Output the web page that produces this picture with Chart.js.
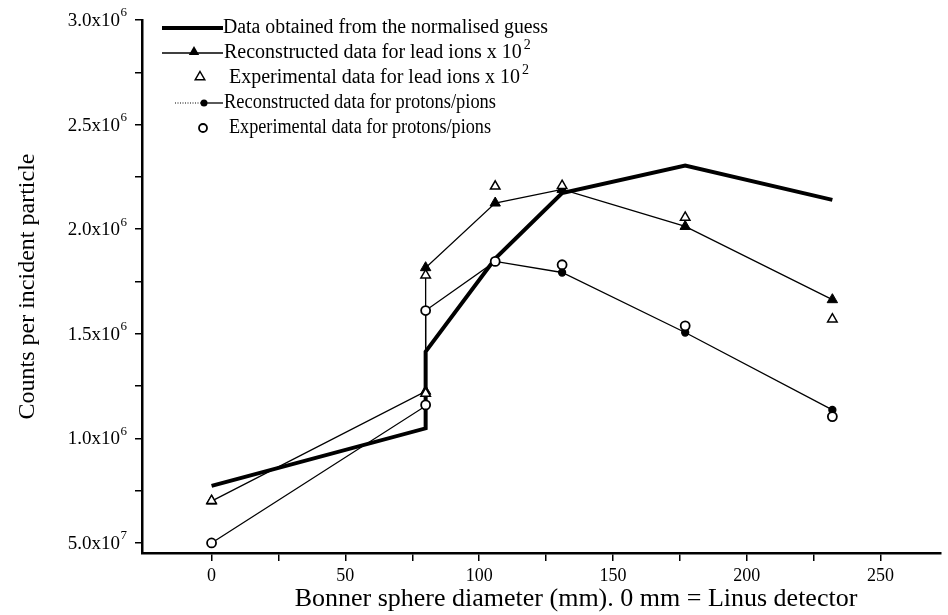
<!DOCTYPE html>
<html>
<head>
<meta charset="utf-8">
<script src="https://cdn.jsdelivr.net/npm/chart.js@4.4.1/dist/chart.umd.min.js"></script>
<style>
  html, body { margin: 0; background: #fff; }
</style>
</head>
<body>
<canvas id="bonner-chart" width="948" height="615"></canvas>
<script>
// sphere diameters (mm); two readings sit at 80 mm
const diameters = [0, 80, 80, 106, 131, 177, 232];
// counts per incident particle, in units of 10^6
const guessCounts = [0.773, 1.048, 1.415, 1.86, 2.173, 2.304, 2.14];
const leadRecon = [0.70, 1.225, 1.816, 2.125, 2.19, 2.013, 1.663];
const leadExp = [0.702, 1.215, 1.78, 2.205, 2.208, 2.056, 1.57];
const protonRecon = [0.50, 1.155, 1.611, 1.846, 1.793, 1.506, 1.136];
const protonExp = [0.50, 1.16, 1.611, 1.846, 1.83, 1.538, 1.104];

const yTickValues = [0.5, 1.0, 1.5, 2.0, 2.5, 3.0];
const yTickBase = ['5.0x10', '1.0x10', '1.5x10', '2.0x10', '2.5x10', '3.0x10'];
const yTickExp = ['7', '6', '6', '6', '6', '6'];
const xTickValues = [0, 50, 100, 150, 200, 250];

const seriesNames = [
    'Data obtained from the normalised guess',
    'Reconstructed data for lead ions x 10',
    'Experimental data for lead ions x 10',
    'Reconstructed data for protons/pions',
    'Experimental data for protons/pions'
];
const seriesSup = ['', '2', '2', '', ''];

const serif = '"Liberation Serif", "Times New Roman", serif';

function points(vals) {
    return vals.map((v, i) => ({ x: diameters[i], y: v }));
}

function triangle(ctx, x, y, r, filled) {
    ctx.beginPath();
    ctx.moveTo(x, y - r);
    ctx.lineTo(x + r * 0.866, y + r * 0.5);
    ctx.lineTo(x - r * 0.866, y + r * 0.5);
    ctx.closePath();
    if (filled) { ctx.fill(); } else { ctx.fillStyle = '#fff'; ctx.fill(); ctx.stroke(); ctx.fillStyle = '#000'; }
}

function circle(ctx, x, y, r, filled) {
    ctx.beginPath();
    ctx.arc(x, y, r, 0, Math.PI * 2);
    if (filled) { ctx.fill(); } else { ctx.fillStyle = '#fff'; ctx.fill(); ctx.stroke(); ctx.fillStyle = '#000'; }
}

// legend, y tick labels with exponents and x title, drawn like the printed figure
const paperBits = {
    id: 'paperBits',
    afterDraw(chart) {
        const ctx = chart.ctx;
        ctx.save();
        ctx.fillStyle = '#000';
        ctx.strokeStyle = '#000';
        const rows = [28, 53, 78, 103, 128];
        const textX = [223, 224, 229, 224, 229];
        const maxW = [325, 308, 296, 272, 262];

        // row 0: thick line
        ctx.lineWidth = 4;
        ctx.beginPath(); ctx.moveTo(162, rows[0]); ctx.lineTo(223, rows[0]); ctx.stroke();
        // row 1: line + filled triangle
        ctx.lineWidth = 1.3;
        ctx.beginPath(); ctx.moveTo(162, rows[1]); ctx.lineTo(223, rows[1]); ctx.stroke();
        triangle(ctx, 194, rows[1] - 1, 6, true);
        // row 2: open triangle
        ctx.lineWidth = 1.5;
        triangle(ctx, 200, rows[2] - 1, 5.5, false);
        // row 3: dotted then solid line + filled circle
        ctx.lineWidth = 1;
        ctx.setLineDash([1, 1.5]);
        ctx.beginPath(); ctx.moveTo(175, rows[3]); ctx.lineTo(203, rows[3]); ctx.stroke();
        ctx.setLineDash([]);
        ctx.lineWidth = 1.3;
        ctx.beginPath(); ctx.moveTo(203, rows[3]); ctx.lineTo(223, rows[3]); ctx.stroke();
        circle(ctx, 204, rows[3], 3.5, true);
        // row 4: open circle
        ctx.lineWidth = 1.8;
        circle(ctx, 203, rows[4], 4, false);

        ctx.textBaseline = 'middle';
        ctx.textAlign = 'left';
        seriesNames.forEach((name, i) => {
            ctx.font = '20px ' + serif;
            const w = Math.min(ctx.measureText(name).width, maxW[i]);
            ctx.fillText(name, textX[i], rows[i], maxW[i]);
            if (seriesSup[i]) {
                ctx.font = '14px ' + serif;
                ctx.fillText(seriesSup[i], textX[i] + w + 2, rows[i] - 8);
            }
        });

        // y tick labels, base plus raised exponent, right aligned to the ticks
        const yScale = chart.scales.y;
        const rightEdge = yScale.right - 15;
        yTickValues.forEach((v, i) => {
            const py = yScale.getPixelForValue(v);
            ctx.font = '13px ' + serif;
            const ew = ctx.measureText(yTickExp[i]).width;
            ctx.textAlign = 'right';
            ctx.fillText(yTickExp[i], rightEdge, py - 7);
            ctx.font = '19px ' + serif;
            ctx.fillText(yTickBase[i], rightEdge - ew - 0.5, py + 1);
        });

        // x axis title
        ctx.font = '26px ' + serif;
        ctx.textAlign = 'center';
        ctx.fillText('Bonner sphere diameter (mm). 0 mm = Linus detector', 576, 599);
        ctx.restore();
    }
};

const ctx = document.getElementById('bonner-chart').getContext('2d');
new Chart(ctx, {
    type: 'line',
    data: {
        datasets: [{
            label: seriesNames[0],
            data: points(guessCounts),
            borderColor: '#000',
            borderWidth: 4,
            pointRadius: 0,
            order: 5
        }, {
            label: seriesNames[1],
            data: points(leadRecon),
            borderColor: '#000',
            borderWidth: 1.3,
            pointStyle: 'triangle',
            pointRadius: 6,
            pointBackgroundColor: '#000',
            pointBorderColor: '#000',
            pointBorderWidth: 1,
            order: 4
        }, {
            label: seriesNames[2],
            data: points(leadExp),
            showLine: false,
            pointStyle: 'triangle',
            pointRadius: 5.5,
            pointBackgroundColor: '#fff',
            pointBorderColor: '#000',
            pointBorderWidth: 1.5,
            order: 2
        }, {
            label: seriesNames[3],
            data: points(protonRecon),
            borderColor: '#000',
            borderWidth: 1.3,
            pointStyle: 'circle',
            pointRadius: 3.5,
            pointBackgroundColor: '#000',
            pointBorderColor: '#000',
            order: 3
        }, {
            label: seriesNames[4],
            data: points(protonExp),
            showLine: false,
            pointStyle: 'circle',
            pointRadius: 4.5,
            pointBackgroundColor: '#fff',
            pointBorderColor: '#000',
            pointBorderWidth: 1.8,
            order: 1
        }]
    },
    options: {
        responsive: false,
        animation: false,
        layout: { padding: { top: 20, right: 0, left: 0, bottom: 0 } },
        elements: { line: { tension: 0 } },
        plugins: { legend: { display: false }, tooltip: { enabled: false } },
        scales: {
            x: {
                type: 'linear',
                min: -26,
                max: 272.6,
                afterFit: (scale) => { scale.height = 62; },
                afterBuildTicks: (scale) => { scale.ticks = scale.ticks.filter(t => t.value >= 0); },
                border: { display: true, color: '#000', width: 2.5 },
                grid: { drawOnChartArea: false, drawTicks: true, tickLength: 8, color: '#000', lineWidth: 1.5 },
                ticks: {
                    stepSize: 25,
                    includeBounds: false,
                    autoSkip: false,
                    maxRotation: 0,
                    padding: 4,
                    color: '#000',
                    font: { family: serif, size: 18 },
                    callback: (v) => xTickValues.includes(v) ? String(v) : ''
                }
            },
            y: {
                min: 0.452,
                max: 3.0,
                afterFit: (scale) => { scale.width = 142; },
                border: { display: true, color: '#000', width: 2.5 },
                grid: { drawOnChartArea: false, drawTicks: true, tickLength: 7, color: '#000', lineWidth: 1.5 },
                ticks: {
                    stepSize: 0.25,
                    includeBounds: false,
                    autoSkip: false,
                    padding: 6,
                    color: '#000',
                    font: { family: serif, size: 18 },
                    callback: () => ''
                },
                title: {
                    display: true,
                    text: 'Counts per incident particle',
                    color: '#000',
                    font: { family: serif, size: 24 },
                    padding: { top: 13, bottom: 0 }
                }
            }
        }
    },
    plugins: [paperBits]
});
</script>
</body>
</html>
